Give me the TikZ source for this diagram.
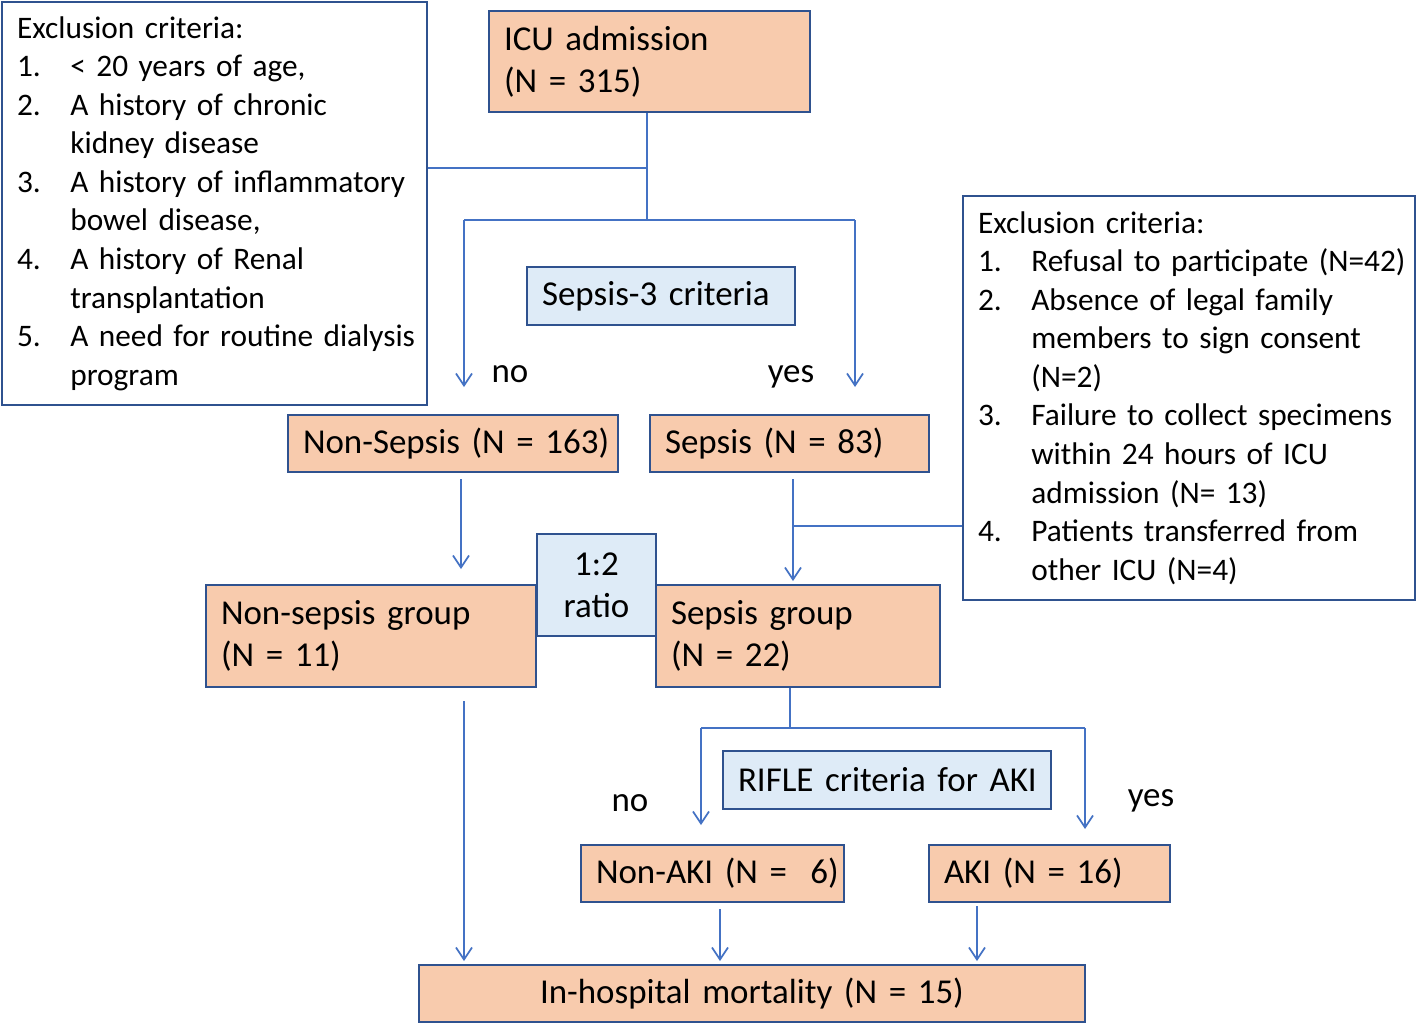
\documentclass[tikz,border=0pt]{standalone}
\usepackage{fontspec}
\setmainfont{Carlito}
\usetikzlibrary{arrows.meta,calc}
\definecolor{peach}{HTML}{F8CBAD}
\definecolor{lblue}{HTML}{DEEBF7}
\definecolor{bord}{HTML}{2F528F}
\definecolor{conn}{HTML}{4472C4}
\newcommand{\itm}[2]{\makebox[40pt][l]{#1}\mbox{#2}}
\newcommand{\ind}[1]{\hspace*{40pt}\mbox{#1}}
\begin{document}
\begin{tikzpicture}[x=0.75pt,y=-0.75pt,
  font=\fontsize{26.2}{31.5}\selectfont,
  bx/.style={draw=bord,line width=1.5pt,rectangle,inner xsep=11.25pt,inner ysep=0pt,align=left},
  pbox/.style={bx,fill=peach},
  bbox/.style={bx,fill=lblue},
  wbox/.style={bx,fill=white,font=\fontsize{23.5}{28.9}\selectfont},
  cline/.style={draw=conn,line width=1.3pt},
  arr/.style={cline,-{Straight Barb[length=9pt,width=12pt,line width=1.3pt]}},
  lab/.style={anchor=base,inner sep=0pt}]
\useasboundingbox (0,0) rectangle (1418,1026);
\fill[white] (0,0) rectangle (1418,1026);

% boxes
\node[wbox,text width=296.25pt,minimum height=302.25pt] (ex1) at (214.5,203.5)
 {\mbox{Exclusion criteria:}\\
  \itm{1.}{< 20 years of age,}\\
  \itm{2.}{A history of chronic}\\
  \ind{kidney disease}\\
  \itm{3.}{A history of inflammatory}\\
  \ind{bowel disease,}\\
  \itm{4.}{A history of Renal}\\
  \ind{transplantation}\\
  \itm{5.}{A need for routine dialysis}\\
  \ind{program}};
\node[pbox,text width=218.25pt,minimum height=75.75pt] (icu) at (649.5,61.5)
 {\mbox{ICU admission}\\\mbox{(N = 315)}};
\node[bbox,text width=178.5pt,minimum height=43.5pt] (sep3) at (661,296)
 {\mbox{Sepsis-3 criteria}};
\node[wbox,text width=316.5pt,minimum height=303pt] (ex2) at (1189,398)
 {\mbox{Exclusion criteria:}\\
  \itm{1.}{Refusal to participate (N=42)}\\
  \itm{2.}{Absence of legal family}\\
  \ind{members to sign consent}\\
  \ind{(N=2)}\\
  \itm{3.}{Failure to collect specimens}\\
  \ind{within 24 hours of ICU}\\
  \ind{admission (N= 13)}\\
  \itm{4.}{Patients transferred from}\\
  \ind{other ICU (N=4)}};
\node[pbox,text width=225pt,minimum height=42.75pt] (ns) at (453,443.5)
 {\mbox{Non-Sepsis (N = 163)}};
\node[pbox,text width=186.75pt,minimum height=42.75pt] (s) at (789.5,443.5)
 {\mbox{Sepsis (N = 83)}};
\node[pbox,text width=225pt,minimum height=76.5pt] (nsg) at (371,636)
 {\mbox{Non-sepsis group}\\\mbox{(N = 11)}};
\node[pbox,text width=190.5pt,minimum height=76.5pt] (sg) at (798,636)
 {\mbox{Sepsis group}\\\mbox{(N = 22)}};
\node[bbox,align=center,minimum width=89.25pt,inner xsep=0pt,minimum height=76.5pt] (ratio) at (596.5,585)
 {1:2\\ratio};
\node[bbox,text width=223.5pt,minimum height=43.5pt] (rifle) at (887,780)
 {\mbox{RIFLE criteria for AKI}};
\node[pbox,text width=174.75pt,minimum height=42.75pt] (nonaki) at (712.5,873.5)
 {\mbox{Non-AKI (N = \,\,6)}};
\node[pbox,text width=158.25pt,minimum height=42.75pt] (aki) at (1049.5,873.5)
 {\mbox{AKI (N = 16)}};
\node[pbox,align=center,text width=477pt,minimum height=42.75pt] (mort) at (752,993.5)
 {\mbox{In-hospital mortality (N = 15)}};

% labels
\node[lab] (no1) at (510,382) {no};
\node[lab] (yes1) at (791,382) {yes};
\node[lab] (no2) at (630,811) {no};
\node[lab] (yes2) at (1151,806) {yes};

% connectors: ICU split
\coordinate (c1) at (647,168);
\coordinate (c2) at (647,220);
\coordinate (cl) at (464,220);
\coordinate (cr) at (855,220);
\draw[cline] (icu.south -| c1) -- (c2);
\draw[cline] (ex1.east |- c1) -- (c1);
\draw[cline] (cl) -- (cr);
\draw[arr,shorten >=20.25pt] (cl) -- (cl |- ns.north);
\draw[arr,shorten >=20.25pt] (cr) -- (cr |- s.north);

% non-sepsis -> group
\coordinate (a3) at ($(ns.south)+(8,6)$);
\draw[arr,shorten >=11.25pt] (a3) -- (a3 |- nsg.north);

% sepsis -> group with exclusion
\coordinate (a4) at ($(s.south)+(3.5,6)$);
\coordinate (a4m) at ($(a4)+(0,47)$);
\draw[arr,shorten >=2.25pt] (a4) -- (a4 |- sg.north);
\draw[cline] (a4m) -- (a4m -| ex2.west);

% sepsis group split
\coordinate (b1) at ($(sg.south)+(-8,0)$);
\coordinate (b2) at ($(b1)+(0,41)$);
\coordinate (bl) at (701,728);
\coordinate (br) at (1085,728);
\draw[cline] (b1) -- (b2);
\draw[cline] (bl) -- (br);
\draw[arr,shorten >=14.25pt] (bl) -- (bl |- nonaki.north);
\draw[arr,shorten >=11.25pt] (br) -- (br |- aki.north);

% to mortality
\coordinate (m1) at ($(nsg.south)+(93,13)$);
\draw[arr,shorten >=2.25pt] (m1) -- (m1 |- mort.north);
\coordinate (m2) at ($(nonaki.south)+(7.5,6)$);
\draw[arr,shorten >=2.25pt] (m2) -- (m2 |- mort.north);
\coordinate (m3) at ($(aki.south)+(-72.5,3)$);
\draw[arr,shorten >=2.25pt] (m3) -- (m3 |- mort.north);
\end{tikzpicture}
\end{document}
